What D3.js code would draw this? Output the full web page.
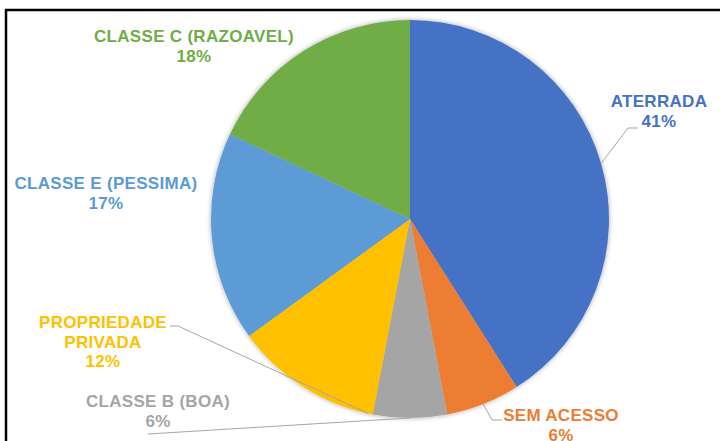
<!DOCTYPE html>
<html>
<head>
<meta charset="utf-8">
<script src="https://cdn.jsdelivr.net/npm/d3@7"></script>
<style>
  body { margin: 0; background: #fff; }
  svg { display: block; }
</style>
</head>
<body>
<div id="chart"></div>
<script>
const categories = ["ATERRADA", "SEM ACESSO", "CLASSE B (BOA)", "PROPRIEDADE PRIVADA", "CLASSE E (PESSIMA)", "CLASSE C (RAZOAVEL)"];
const values = [41, 6, 6, 12, 17, 18];
const sliceColors = ["#4472C4", "#ED7D31", "#A5A5A5", "#FFC000", "#5B9BD5", "#70AD47"];

// label layout (Excel-style placed labels)
const labelLines = [["ATERRADA"], ["SEM ACESSO"], ["CLASSE B (BOA)"], ["PROPRIEDADE", "PRIVADA"], ["CLASSE E (PESSIMA)"], ["CLASSE C (RAZOAVEL)"]];
const labelPos = [[659, 107], [561, 421], [158, 407], [103, 328], [106, 189], [194, 42]];
// leader: where on the slice it touches (0..1 of slice angle), then elbow points
const leaders = [
  { t: 0.5, pts: [[628, 128], [638, 128]] },
  { t: 0.5, pts: [[492, 420], [502, 420]] },
  { t: 0.5, pts: [[148, 434]] },
  { t: 0.03, pts: [[178, 326], [170, 326]] },
  null,
  null
];

const width = 720, height = 441;
const cx = 410, cy = 219, radius = 199;

const svg = d3.select("#chart").append("svg")
  .attr("width", width)
  .attr("height", height);

const defs = svg.append("defs");
const shadow = defs.append("filter")
  .attr("id", "pieShadow")
  .attr("x", "-10%").attr("y", "-10%")
  .attr("width", "120%").attr("height", "120%");
shadow.append("feDropShadow")
  .attr("dx", 0).attr("dy", 0)
  .attr("stdDeviation", 2.5)
  .attr("flood-color", "#000")
  .attr("flood-opacity", 0.35);

// frame
svg.append("rect")
  .attr("x", 6)
  .attr("y", 10)
  .attr("width", width + 20)
  .attr("height", height + 20)
  .attr("fill", "none")
  .attr("stroke", "#000")
  .attr("stroke-width", 2.5);

const pie = d3.pie().sort(null).value(d => d)(values);
const arc = d3.arc().innerRadius(0).outerRadius(radius);

const g = svg.append("g")
  .attr("transform", `translate(${cx},${cy})`);

g.append("g")
  .attr("filter", "url(#pieShadow)")
  .selectAll("path")
  .data(pie)
  .join("path")
  .attr("d", arc)
  .attr("fill", (d, i) => sliceColors[i]);

// leader lines
const line = d3.line();
pie.forEach((d, i) => {
  const ld = leaders[i];
  if (!ld) return;
  const a = d.startAngle + ld.t * (d.endAngle - d.startAngle);
  const start = [cx + radius * Math.sin(a), cy - radius * Math.cos(a)];
  svg.append("path")
    .attr("d", line([start, ...ld.pts]))
    .attr("fill", "none")
    .attr("stroke", "#A6A6A6")
    .attr("stroke-width", 1);
});

// labels
pie.forEach((d, i) => {
  const lines = labelLines[i].concat([values[i] + "%"]);
  const t = svg.append("text")
    .attr("x", labelPos[i][0])
    .attr("y", labelPos[i][1])
    .attr("text-anchor", "middle")
    .attr("fill", sliceColors[i])
    .style("font-family", "'Liberation Sans', Arial, sans-serif")
    .style("font-weight", "bold")
    .style("font-size", "17px")
    .style("letter-spacing", "0.3px");
  lines.forEach((s, k) => {
    t.append("tspan")
      .attr("x", labelPos[i][0])
      .attr("dy", k === 0 ? 0 : 19.5)
      .text(s);
  });
});
</script>
</body>
</html>
